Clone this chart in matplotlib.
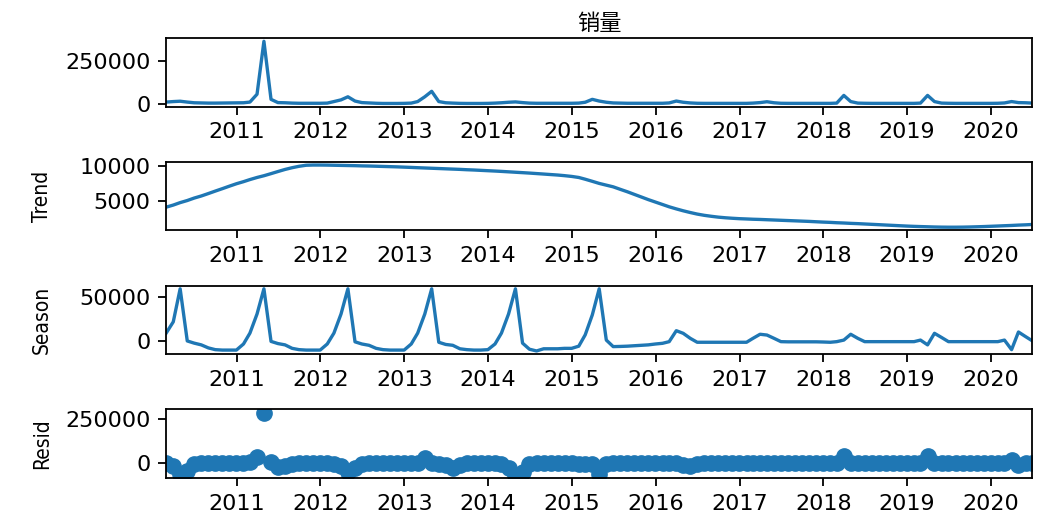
import pandas as pd
import matplotlib
matplotlib.use("Agg")
import matplotlib.pyplot as plt
import matplotlib.dates as mdates

# title (Chinese, shows as tofu in the reference)
title = "销量"

# monthly, month end, Feb 2010 .. Jun 2020
months = pd.period_range("2010-02", "2020-06", freq="M").to_timestamp(how="end").normalize()

observed = [
    9000, 12000, 14000, 9000, 5000, 4000, 3000, 3000, 3500, 4000, 4500,
    5000, 9000, 55000, 365000, 25000, 6000, 5000, 3000, 2000, 2000, 2000, 2000,
    3000, 12000, 22000, 40000, 15000, 6000, 4000, 2000, 1000, 1000, 1000, 1500,
    3000, 12000, 40000, 72000, 12000, 5000, 3000, 1500, 1000, 1000, 1000, 1500,
    3000, 5000, 8000, 10000, 6000, 3000, 2000, 2000, 2000, 2000, 2000, 2000,
    3000, 8000, 25000, 15000, 8000, 4000, 3000, 2000, 2000, 2000, 2000, 2000,
    2000, 4000, 15000, 8000, 4000, 2000, 1500, 1500, 1500, 1500, 1500, 1500,
    1500, 3000, 6000, 11000, 5000, 2000, 1500, 1500, 1500, 1500, 1500, 1500,
    1500, 3000, 48000, 12000, 3000, 2000, 1500, 1500, 1500, 1500, 1500, 1500,
    1500, 3000, 48000, 12000, 3000, 2000, 1500, 1500, 1500, 1500, 1500, 1500,
    2000, 4000, 12000, 6000, 5000, 3000,
]

trend = [
    4050, 4350, 4700, 5000, 5350, 5650, 6000, 6350, 6700, 7050, 7400,
    7700, 8000, 8300, 8550, 8850, 9150, 9450, 9700, 9900, 10050, 10080, 10080,
    10070, 10050, 10030, 10010, 9990, 9960, 9940, 9910, 9880, 9850, 9820, 9780,
    9740, 9700, 9660, 9620, 9580, 9540, 9500, 9460, 9410, 9370, 9320, 9270,
    9220, 9170, 9110, 9050, 8990, 8930, 8860, 8790, 8720, 8650, 8560, 8450,
    8300, 8050, 7750, 7450, 7200, 6960, 6600, 6250, 5880, 5500, 5130, 4780,
    4430, 4100, 3800, 3530, 3280, 3060, 2880, 2740, 2620, 2530, 2460, 2400,
    2360, 2320, 2290, 2250, 2210, 2170, 2130, 2090, 2050, 2010, 1960, 1910,
    1870, 1820, 1780, 1730, 1690, 1640, 1590, 1540, 1490, 1440, 1390, 1340,
    1300, 1270, 1240, 1210, 1190, 1180, 1180, 1190, 1210, 1240, 1270, 1310,
    1350, 1390, 1430, 1480, 1520, 1570,
]

season = [
    9000, 22000, 60000, 0, -2500, -4500, -8000, -10000, -10500, -10500, -10500,
    -3500, 9000, 31000, 60000, -500, -3000, -4500, -8500, -10000, -10500, -10500, -10500,
    -3500, 9000, 31000, 60000, -1000, -3500, -5000, -8500, -10000, -10500, -10500, -10500,
    -3500, 9000, 31000, 60000, -1500, -4000, -5000, -9000, -10000, -10500, -10500, -10000,
    -3500, 9000, 31000, 60000, -2500, -9500, -11500, -9000, -9000, -9000, -8500, -8500,
    -6000, 7000, 30000, 60000, 1000, -6500, -6300, -6000, -5500, -5000, -4500, -3500,
    -2700, -800, 11800, 8800, 3000, -1500, -1500, -1500, -1500, -1500, -1500, -1500,
    -1500, 3000, 7700, 6800, 3000, -800, -1000, -1000, -1000, -1000, -1000, -1200,
    -1500, -800, 1000, 7700, 3000, -800, -800, -800, -800, -800, -800, -800,
    -800, 1000, -4500, 8800, 4000, -800, -800, -800, -800, -800, -800, -800,
    -800, 1000, -10000, 10300, 5000, 0,
]

resid = [
    0, -15000, -60000, -45000, -3000, 1000, 2000, 3000, 2000, 1000, 0,
    1000, 5000, 35000, 285000, 5000, -22000, -15000, -5000, 0, 1000, 1000, 0,
    0, -3000, -15000, -50000, -25000, -5000, 0, 2000, 2000, 1000, 1000, 0,
    0, 3000, 30000, 2000, -3000, -10000, -28000, -8000, 0, 1000, 1000, 0,
    0, -5000, -25000, -65000, -50000, -5000, 2000, 1000, 1000, 0, 0, 0,
    -3000, -5000, -5000, -62000, -5000, 0, 1000, 1000, 1000, 0, 0, 0,
    0, 1000, 2000, -8000, -15000, -5000, 0, 1000, 1000, 1000, 0, 0,
    0, 1000, 1500, 2000, 1000, 0, 0, 0, 0, 0, 0, 0,
    0, 2000, 38000, 3000, 1000, 0, 0, 0, 0, 0, 0, 0,
    0, 2000, 38000, 3000, 1000, 0, 0, 0, 0, 0, 0, 0,
    0, 3000, 20000, -8000, -1000, 0,
]

plt.rcParams.update({
    "font.size": 16,
    "lines.linewidth": 2.4,
    "lines.markersize": 11,
    "axes.linewidth": 1.3,
    "xtick.major.size": 5.7, "xtick.major.width": 1.3, "xtick.major.pad": 5.7,
    "ytick.major.size": 5.7, "ytick.major.width": 1.3, "ytick.major.pad": 5.7,
})

# narrow face for the y labels, as in the reference
label_kw = dict(family="DejaVu Sans", stretch="condensed", fontsize=15)

fig, axes = plt.subplots(4, 1, figsize=(10.45, 5.16), dpi=100)
fig.subplots_adjust(left=0.159, right=0.988, top=0.926, bottom=0.074, hspace=0.81)

axes[0].plot(months, observed)
axes[0].set_title(title, family=["Noto Sans CJK SC", "DejaVu Sans"], fontsize=16)
axes[0].set_yticks([0, 250000])

axes[1].plot(months, trend)
axes[1].set_ylabel("Trend", **label_kw)
axes[1].set_yticks([5000, 10000])

axes[2].plot(months, season)
axes[2].set_ylabel("Season", **label_kw)
axes[2].set_yticks([0, 50000])

axes[3].plot(months, resid, marker="o", linestyle="none")
axes[3].set_ylabel("Resid", **label_kw)
axes[3].set_yticks([0, 250000])

for ax in axes:
    ax.set_xlim(months[0], months[-1])
    ax.xaxis.set_major_locator(mdates.YearLocator())
    ax.xaxis.set_major_formatter(mdates.DateFormatter("%Y"))
    ax.yaxis.set_label_coords(-0.132, 0.5)

plt.savefig("out.png", dpi=100)
plt.close()
